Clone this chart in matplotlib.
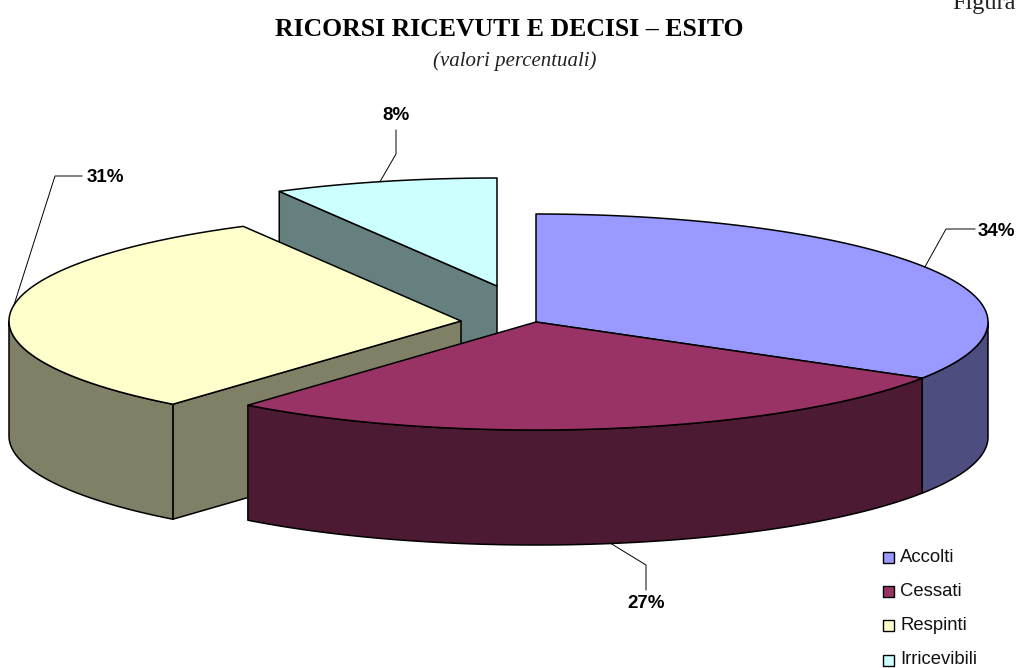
import numpy as np
import matplotlib
matplotlib.use("Agg")
import matplotlib.pyplot as plt
from matplotlib.patches import Polygon, Rectangle

categories = ["Accolti", "Cessati", "Respinti", "Irricevibili"]
values = [33.7, 27.3, 31.0, 8.0]
top_colors = ["#9999FF", "#993366", "#FFFFCC", "#CCFFFF"]
side_colors = ["#4D4D80", "#4D1A33", "#808066", "#668080"]

# pie geometry in image pixels
rx, ry, depth = 452, 108, 115
centers = [(536, 322), (536, 322), (461, 321), (497, 286)]
draw_order = [3, 2, 0, 1]
# elbow points of the leader lines, and where the label goes
leaders = [[(946, 229), (975, 229)], [(646, 565), (646, 590)],
           [(55, 176), (82, 176)], [(396, 154), (396, 130)]]
leader_shift = [-1.3, 0, 3.1, -0.6]  # degrees off the slice middle
label_pos = [(996, 232), (646, 604), (105, 177), (396, 116)]

LINE = 1.1


def rim(cx, cy, a0, a1, dz=0):
    # angles in degrees, clockwise from the top of the ellipse
    t = np.radians(np.linspace(a0, a1, max(int(abs(a1 - a0) * 2), 2)))
    return np.column_stack([cx + rx * np.sin(t), cy - ry * np.cos(t) + dz])


fig = plt.figure(figsize=(10.16, 6.68), dpi=100)
ax = fig.add_axes([0, 0, 1, 1])
ax.set_xlim(0, 1016)
ax.set_ylim(668, 0)
ax.axis("off")

edges = np.cumsum([0] + values) * 3.6

for i in draw_order:
    cx, cy = centers[i]
    a0, a1 = edges[i], edges[i + 1]

    # cut faces that look towards the viewer
    for a, seen in ((a0, np.sin(np.radians(a0)) < -1e-6), (a1, np.sin(np.radians(a1)) > 1e-6)):
        if seen:
            p = rim(cx, cy, a, a, 0)[0]
            face = [(cx, cy), p, (p[0], p[1] + depth), (cx, cy + depth)]
            ax.add_patch(Polygon(face, fc=side_colors[i], ec="black", lw=LINE, joinstyle="round"))

    # outer wall, front half only
    s0, s1 = max(a0, 90), min(a1, 270)
    if s1 > s0:
        wall = np.vstack([rim(cx, cy, s0, s1), rim(cx, cy, s1, s0, depth)])
        ax.add_patch(Polygon(wall, fc=side_colors[i], ec="black", lw=LINE, joinstyle="round"))

    top = np.vstack([[(cx, cy)], rim(cx, cy, a0, a1)])
    ax.add_patch(Polygon(top, fc=top_colors[i], ec="black", lw=LINE, joinstyle="round"))

# leader lines and percentages
for i, v in enumerate(values):
    cx, cy = centers[i]
    mid = (edges[i] + edges[i + 1]) / 2 + leader_shift[i]
    dz = depth if 90 < mid < 270 else 0
    start = rim(cx, cy, mid, mid, dz)[0]
    pts = np.vstack([start, leaders[i]])
    ax.plot(pts[:, 0], pts[:, 1], color="black", lw=0.7)
    ax.text(label_pos[i][0], label_pos[i][1], f"{v:.0f}%", family="Liberation Sans", weight="bold",
            fontsize=13.5, ha="center", va="center", color="black")

# legend
legend_y = [557, 591, 625, 660]
for name, col, y in zip(categories, top_colors, legend_y):
    ax.add_patch(Rectangle((883, y - 5.5), 11, 11, fc=col, ec="black", lw=1.0))
    ax.text(900, y, name, family="Liberation Sans", fontsize=13.3, ha="left", va="center", color="#111111")

ax.text(509, 30, "RICORSI RICEVUTI E DECISI – ESITO", family="Liberation Serif", weight="bold",
        fontsize=18.5, ha="center", va="center")
ax.text(515, 61, "(valori percentuali)", family="Liberation Serif", style="italic",
        fontsize=15, ha="center", va="center", color="#222222")
ax.text(952, 9, "Figura", family="Liberation Serif", fontsize=17.5, ha="left", va="baseline", color="#222222")

fig.savefig("out.png", dpi=100)
